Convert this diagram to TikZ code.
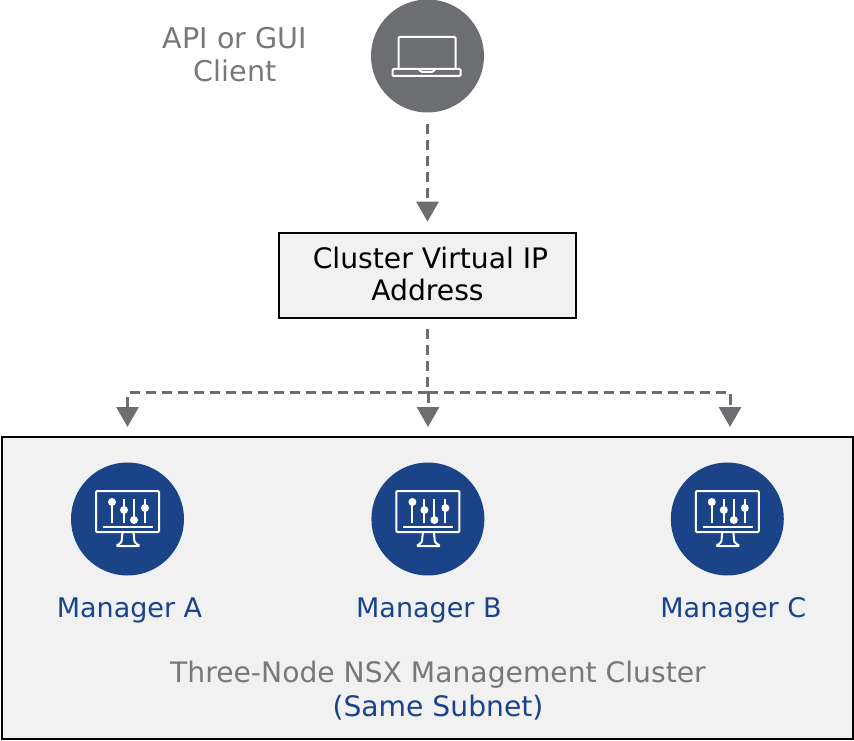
\documentclass[tikz,border=0pt]{standalone}
\usepackage{fontspec}
\setmainfont{DejaVu Sans}
\usepackage{tikz}
\usetikzlibrary{positioning, calc, arrows.meta}
\definecolor{iconGray}{HTML}{6D6E71}
\definecolor{labelGray}{HTML}{77787B}
\definecolor{managerBlue}{HTML}{1A4388}
\definecolor{panelGray}{HTML}{F1F1F1}

\begin{document}
\begin{tikzpicture}[
  x=1pt, y=1pt,
  node distance=10pt,
  iconcircle/.style={circle, minimum size=113pt, inner sep=0pt},
  clientcircle/.style={iconcircle, fill=iconGray},
  managercircle/.style={iconcircle, fill=managerBlue},
  panel/.style={draw=black, line width=2.2pt, fill=panelGray, inner sep=0pt},
  greylabel/.style={text=labelGray, font=\fontsize{28.2}{33}\selectfont, align=center},
  bluelabel/.style={text=managerBlue, font=\fontsize{27}{33}\selectfont, align=center},
  dashline/.style={draw=iconGray, line width=3pt, dash pattern=on 10pt off 6pt},
  arrow/.style={dashline, -{Triangle[length=20pt, width=22pt]}, shorten >=10pt},
  iconline/.style={draw=white, line width=2pt, rounded corners=1pt},
  laptopicon/.pic={
    \draw [iconline] (-29,-13) -- (-29,19) -- (28,19) -- (28,-13);
    \draw [iconline] (-35,-13) rectangle (33,-20);
    \draw [iconline] (-9,-13) -- (-6,-16) -- (5,-16) -- (8,-13);
  },
  monitoricon/.pic={
    \draw [iconline] (-31.5,-13) rectangle (31.5,28);
    \draw [iconline] (-24.5,-8) -- (25.5,-8);
    \draw [iconline] (-5,-13) -- (-6,-23) -- (-11,-27) -- (12,-27) -- (7,-23) -- (6,-13);
    % sliders: x position / knob height
    \foreach \sx/\sy in {-15.5/17, -3.5/9, 6.5/-1, 17.5/11} {
      \draw [draw=white, line width=1.9pt] (\sx,20) -- (\sx,-4);
      \fill [white] (\sx,\sy) circle (4);
    }
  },
]
  \useasboundingbox (0,0) rectangle (854,740);

  % Client
  \node (client) [clientcircle] at (427.5,684) {};
  \pic at (client) {laptopicon};
  \node (clientlabel) [greylabel, font=\fontsize{28.6}{33}\selectfont] at (235,685) {API or GUI\\Client};

  % Virtual IP box
  \node (vip) [panel, minimum width=297pt, minimum height=85pt, text=black,
    font=\fontsize{28.2}{32}\selectfont, align=center, below=119pt of client] {\hspace{6pt}Cluster Virtual IP\\Address\rule[-4pt]{0pt}{0pt}};

  % Cluster panel
  \node (cluster) [panel, minimum width=851pt, minimum height=302pt] at (427.5,152) {};

  % Managers
  \node (manager1) [managercircle] at (127.5,221) {};
  \node (manager2) [managercircle, right=187pt of manager1] {};
  \node (manager3) [managercircle, right=186pt of manager2] {};
  \foreach \i in {1,2,3} {
    \pic at (manager\i) {monitoricon};
  }
  \node (labelA) [bluelabel, below=34.5pt of manager1.south, anchor=center, xshift=2pt] {Manager A};
  \node (labelB) [bluelabel, below=34.5pt of manager2.south, anchor=center, xshift=1pt] {Manager B};
  \node (labelC) [bluelabel, below=34.5pt of manager3.south, anchor=center, xshift=6pt] {Manager C};

  % Cluster caption
  \node (caption) [greylabel, font=\fontsize{28.2}{34}\selectfont, anchor=center] at (438,49) {Three-Node NSX Management Cluster\\\textcolor{managerBlue}{(Same Subnet)}};

  % Drop points above the panel
  \coordinate (bus) at (vip.south |- 0,347);
  \coordinate (drop1) at (127.5,303);
  \coordinate (drop2) at (428,303);
  \coordinate (drop3) at (730,303);

  % Connectors
  \draw [arrow, shorten <=11pt] (client.south) -- (vip.north);
  \draw [dashline, shorten <=10pt] (vip.south) -- (bus);
  \foreach \i in {1,2,3} {
    \draw [arrow] (bus) -| (drop\i);
  }
\end{tikzpicture}
\end{document}
